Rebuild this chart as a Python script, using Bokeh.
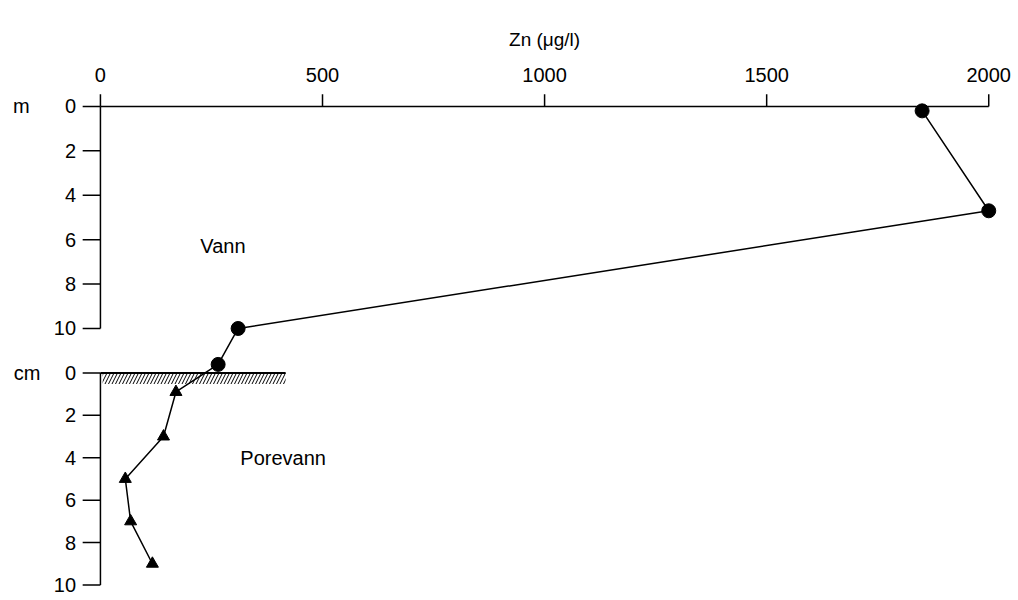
from bokeh.plotting import figure
from bokeh.models import Range1d
from bokeh.embed import file_html
from bokeh.resources import INLINE
from bokeh.core.properties import value

# data
water_depth_m = [0.2, 4.7, 10.0]
water_zn = [1850, 2000, 310]
interface_cm = [-0.4]
interface_zn = [265]
pore_depth_cm = [0.9, 3.0, 5.0, 7.0, 9.0]
pore_zn = [170, 142, 56, 68, 117]
x_ticks = [0, 500, 1000, 1500, 2000]
m_ticks = [0, 2, 4, 6, 8, 10]
cm_ticks = [0, 2, 4, 6, 8, 10]

SED_OFF, SED_SC = 12.0, 0.955
def sed(c):
    return SED_OFF + c * SED_SC

FONT = value("Liberation Sans")
FS = "20px"
p = figure(width=1018, height=600, output_backend="svg", toolbar_location=None,
           x_range=Range1d(-225, 2067), y_range=Range1d(22.25, -4.77),
           min_border=0, outline_line_color=None)
p.axis.visible = False
p.grid.visible = False

# axes drawn manually
p.line([0, 2000], [0, 0], color="black", line_width=1.5)
p.segment(x0=x_ticks, y0=[0]*5, x1=x_ticks, y1=[-0.55]*5, color="black", line_width=1.5)
p.text(x=x_ticks, y=[-1.4]*5, text=[str(t) for t in x_ticks], text_align="center",
       text_baseline="middle", text_font=FONT, text_font_size=FS)
p.text(x=[1000], y=[-3.0], text=["Zn (μg/l)"], text_align="center", text_baseline="middle",
       text_font=FONT, text_font_size="19px")

p.line([0, 0], [0, 10], color="black", line_width=1.5)
p.segment(x0=[0]*6, y0=m_ticks, x1=[-40]*6, y1=m_ticks, color="black", line_width=1.5)
p.text(x=[-55]*6, y=m_ticks, text=[str(t) for t in m_ticks], text_align="right",
       text_baseline="middle", text_font=FONT, text_font_size=FS)
p.text(x=[-178], y=[0], text=["m"], text_align="center", text_baseline="middle",
       text_font=FONT, text_font_size=FS)

sy = [sed(c) for c in cm_ticks]
p.line([0, 0], [sed(0), sed(10)], color="black", line_width=1.5)
p.segment(x0=[0]*6, y0=sy, x1=[-40]*6, y1=sy, color="black", line_width=1.5)
p.text(x=[-55]*6, y=sy, text=[str(t) for t in cm_ticks], text_align="right",
       text_baseline="middle", text_font=FONT, text_font_size=FS)
p.text(x=[-165], y=[sed(0)], text=["cm"], text_align="center", text_baseline="middle",
       text_font=FONT, text_font_size=FS)

# sediment surface with hatching
p.quad(left=[5], right=[417], top=[sed(0)], bottom=[sed(0) + 0.5], fill_color=None,
       line_color=None, hatch_pattern="/", hatch_color="black", hatch_scale=7, hatch_weight=1)
p.line([0, 417], [sed(0), sed(0)], color="black", line_width=2)

# profile
xs = water_zn + interface_zn + pore_zn
ys = water_depth_m + [sed(c) for c in interface_cm] + [sed(c) for c in pore_depth_cm]
p.line(xs, ys, color="black", line_width=1.5)
p.scatter(water_zn + interface_zn, water_depth_m + [sed(c) for c in interface_cm],
          marker="circle", size=14, color="black")
p.scatter(pore_zn, [sed(c) for c in pore_depth_cm], marker="triangle", size=12, color="black")

p.text(x=[225], y=[6.3], text=["Vann"], text_align="left", text_baseline="middle",
       text_font=FONT, text_font_size=FS)
p.text(x=[315], y=[sed(4)], text=["Porevann"], text_align="left", text_baseline="middle",
       text_font=FONT, text_font_size=FS)

open("out.html", "w").write(file_html(p, INLINE))
